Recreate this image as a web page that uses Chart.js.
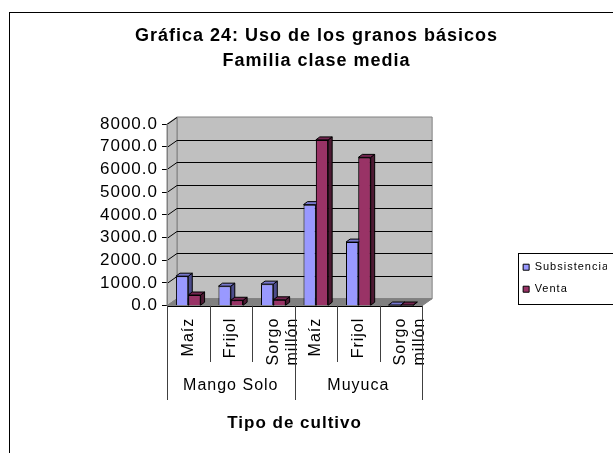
<!DOCTYPE html>
<html>
<head>
<meta charset="utf-8">
<script src="https://cdn.jsdelivr.net/npm/chart.js@4/dist/chart.umd.min.js"></script>
<style>
  body { margin: 0; background: #fff; overflow: hidden; }
  #frame { position: absolute; left: 9px; top: 12px; width: 700px; height: 500px;
           border-left: 1px solid #000; border-top: 1px solid #000; pointer-events: none; }
</style>
</head>
<body>
<canvas id="grafica" width="613" height="453"></canvas>
<div id="frame"></div>
<script>
var cultivos = ['Maíz', 'Frijol', ['Sorgo', 'millón'], 'Maíz', 'Frijol', ['Sorgo', 'millón']];
var lugares = ['Mango Solo', 'Muyuca'];
var subsistencia = [1300, 860, 950, 4450, 2800, 30];
var venta = [470, 240, 260, 7300, 6530, 30];
var ejeY = [0, 1000, 2000, 3000, 4000, 5000, 6000, 7000, 8000];

Chart.defaults.font.family = "'Liberation Sans', Arial, sans-serif";
Chart.defaults.color = '#000';

function poly(ctx, pts, fill) {
    ctx.beginPath();
    ctx.moveTo(pts[0][0], pts[0][1]);
    for (var i = 1; i < pts.length; i++) ctx.lineTo(pts[i][0], pts[i][1]);
    ctx.closePath();
    ctx.fillStyle = fill;
    ctx.fill();
    ctx.stroke();
}

// pared, piso y rejilla en perspectiva
var pared = {
    id: 'pared',
    beforeDraw: function (chart) {
        // el texto de Excel sale algo estirado
        chart.ctx.letterSpacing = '1px';
    },
    beforeDatasetsDraw: function (chart) {
        var ctx = chart.ctx, a = chart.chartArea, y = chart.scales.y;
        var dx = 10, dy = 7;
        ctx.save();
        ctx.lineWidth = 1;
        ctx.strokeStyle = '#808080';
        poly(ctx, [[a.left + dx, a.top - dy], [a.right + dx, a.top - dy], [a.right + dx, a.bottom - dy], [a.left + dx, a.bottom - dy]], '#c0c0c0');
        poly(ctx, [[a.left, a.top], [a.left + dx, a.top - dy], [a.left + dx, a.bottom - dy], [a.left, a.bottom]], '#c0c0c0');
        poly(ctx, [[a.left, a.bottom], [a.left + dx, a.bottom - dy], [a.right + dx, a.bottom - dy], [a.right, a.bottom]], '#808080');
        ctx.strokeStyle = '#000';
        ejeY.forEach(function (v) {
            if (v === 0) return;
            var py = Math.round(y.getPixelForValue(v)) + 0.5;
            ctx.beginPath();
            ctx.moveTo(a.left, py);
            ctx.lineTo(a.left + dx, py - dy);
            if (v < 8000) ctx.lineTo(a.right + dx, py - dy);
            ctx.stroke();
        });
        ctx.strokeStyle = '#808080';
        ctx.beginPath();
        ctx.moveTo(a.left + 0.5, a.bottom);
        ctx.lineTo(a.left + 0.5, a.top);
        ctx.stroke();
        ctx.restore();
    },
    afterDatasetsDraw: function (chart) {
        var ctx = chart.ctx;
        var d = 4, e = 3;
        ctx.save();
        ctx.lineWidth = 1;
        ctx.strokeStyle = '#000';
        [0, 1].forEach(function (di) {
            var ds = chart.data.datasets[di];
            chart.getDatasetMeta(di).data.forEach(function (el) {
                if (di === 1) el.draw(ctx, chart.chartArea);
                var p = el.getProps(['x', 'y', 'base', 'width'], true);
                var l = p.x - p.width / 2, r = p.x + p.width / 2;
                poly(ctx, [[r, p.y], [r + d, p.y - e], [r + d, p.base - e], [r, p.base]], ds.ladoColor);
                poly(ctx, [[l, p.y], [l + d, p.y - e], [r + d, p.y - e], [r, p.y]], ds.topeColor);
            });
        });
        ctx.restore();
    },
    afterDraw: function (chart) {
        var ctx = chart.ctx, a = chart.chartArea, x = chart.scales.x;
        var w = (x.right - x.left) / cultivos.length;
        ctx.letterSpacing = '0px';
        ctx.save();
        ctx.lineWidth = 1;
        ctx.strokeStyle = '#000';
        ctx.beginPath();
        ctx.moveTo(a.left, Math.round(a.bottom) + 0.5);
        ctx.lineTo(a.right, Math.round(a.bottom) + 0.5);
        ctx.stroke();
        ctx.strokeStyle = '#404040';
        for (var k = 0; k <= cultivos.length; k++) {
            var px = Math.round(x.left + k * w) + 0.5;
            ctx.beginPath();
            ctx.moveTo(px, a.bottom);
            ctx.lineTo(px, k % 3 === 0 ? 400 : 362);
            ctx.stroke();
        }
        var hb = chart.legend.legendHitBoxes;
        if (hb && hb.length) {
            var top = hb[0].top - 9, bottom = hb[hb.length - 1].top + hb[hb.length - 1].height + 9;
            ctx.strokeStyle = '#000';
            ctx.strokeRect(Math.round(hb[0].left) - 4.5, Math.round(top) + 0.5, 200, Math.round(bottom - top));
        }
        ctx.restore();
    }
};

var ctx = document.getElementById('grafica');

var myChart = new Chart(ctx, {
    type: 'bar',
    data: {
        labels: cultivos,
        datasets: [
            {
                label: 'Subsistencia',
                data: subsistencia,
                backgroundColor: '#9999ff',
                ladoColor: '#4c4c8c',
                topeColor: '#7777cc',
                borderColor: '#000',
                borderWidth: 1
            },
            {
                label: 'Venta',
                data: venta,
                backgroundColor: '#993366',
                ladoColor: '#4d1a33',
                topeColor: '#732650',
                borderColor: '#000',
                borderWidth: 1
            }
        ]
    },
    options: {
        responsive: false,
        animation: false,
        devicePixelRatio: 1,
        categoryPercentage: 0.58,
        barPercentage: 1,
        layout: { padding: { left: 26, right: 6, top: 0, bottom: 19 } },
        plugins: {
            title: {
                display: true,
                text: ['Gráfica 24: Uso de los granos básicos', 'Familia clase media'],
                font: { size: 18, weight: 'bold', lineHeight: '25px' },
                color: '#000',
                padding: { top: 24, bottom: 50 }
            },
            legend: {
                position: 'right',
                align: 'end',
                fullSize: false,
                labels: {
                    boxWidth: 6,
                    boxHeight: 6,
                    padding: 11,
                    font: { size: 11 },
                    color: '#000'
                }
            },
            tooltip: { enabled: false }
        },
        scales: {
            x: {
                offset: true,
                grid: { display: false, drawTicks: false },
                border: { display: false },
                ticks: { autoSkip: false, minRotation: 90, maxRotation: 90, padding: 12, font: { size: 16 } }
            },
            x2: {
                type: 'category',
                labels: lugares,
                position: 'bottom',
                offset: true,
                grid: { display: false, drawTicks: false },
                border: { display: false },
                ticks: { padding: 4, font: { size: 16 } },
                title: {
                    display: true,
                    text: 'Tipo de cultivo',
                    font: { size: 17, weight: 'bold' },
                    padding: { top: 14, bottom: 0 }
                }
            },
            y: {
                min: 0,
                max: 8000,
                ticks: {
                    stepSize: 1000,
                    autoSkip: false,
                    padding: 4,
                    font: { size: 17, lineHeight: 1 },
                    callback: function (v) { return v.toFixed(1); }
                },
                grid: { drawOnChartArea: false, tickLength: 5, color: '#000' },
                border: { display: false },
                afterFit: function (s) { s.width = 141; }
            },
            yR: {
                type: 'linear',
                position: 'right',
                grid: { display: false, drawTicks: false },
                border: { display: false },
                ticks: { display: false },
                afterFit: function (s) { s.width = 90; }
            }
        }
    },
    plugins: [pared]
});
</script>
</body>
</html>
